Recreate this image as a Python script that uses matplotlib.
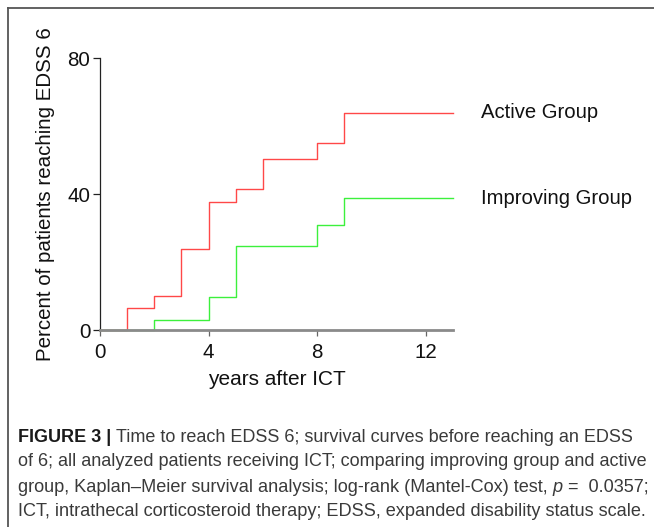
import matplotlib
matplotlib.use('Agg')
import matplotlib.pyplot as plt
from matplotlib.lines import Line2D

# Kaplan-Meier step data (years, percent reaching EDSS 6)
active_t = [0, 1, 2, 3, 4, 5, 6, 8, 9, 13]
active_y = [0, 6.5, 9.9, 23.8, 37.6, 41.4, 50.3, 55.0, 63.9, 63.9]
improving_t = [0, 2, 4, 5, 8, 9, 13]
improving_y = [0, 2.9, 9.8, 24.8, 31.0, 38.8, 38.8]

group_names = ['Active Group', 'Improving Group']
x_ticks = [0, 4, 8, 12]
y_ticks = [0, 40, 80]

caption_lines = [
    [('FIGURE 3 | ', 'bold', 'normal'),
     ('Time to reach EDSS 6; survival curves before reaching an EDSS', 'normal', 'normal')],
    [('of 6; all analyzed patients receiving ICT; comparing improving group and active', 'normal', 'normal')],
    [('group, Kaplan\u2013Meier survival analysis; log-rank (Mantel-Cox) test, ', 'normal', 'normal'),
     ('p', 'normal', 'italic'), (' =  0.0357;', 'normal', 'normal')],
    [('ICT, intrathecal corticosteroid therapy; EDSS, expanded disability status scale.', 'normal', 'normal')],
]

W, H = 654, 527
fig = plt.figure(figsize=(W / 100, H / 100), dpi=100)
font = 'Liberation Sans'
renderer = fig.canvas.get_renderer()

# figure frame (top and left edges)
fig.add_artist(Line2D([8 / W, 8 / W], [0, 1 - 8 / H], color='#555555', lw=1.3, transform=fig.transFigure))
fig.add_artist(Line2D([8 / W, 1], [1 - 8 / H, 1 - 8 / H], color='#555555', lw=1.3, transform=fig.transFigure))

ax = fig.add_axes([100 / W, 1 - 330 / H, 353 / W, 272 / H])
ax.step(active_t, active_y, where='post', color='#ff4848', lw=1.0, clip_on=False, zorder=3)
ax.step(improving_t, improving_y, where='post', color='#3cf03c', lw=1.0, clip_on=False, zorder=3)

ax.set_xlim(0, 13)
ax.set_ylim(0, 80)
ax.set_xticks(x_ticks)
ax.set_yticks(y_ticks)
for s in ['top', 'right']:
    ax.spines[s].set_visible(False)
ax.spines['left'].set_color('#222222')
ax.spines['left'].set_linewidth(0.9)
ax.spines['bottom'].set_color('#8a8a8a')
ax.spines['bottom'].set_linewidth(2.0)
ax.spines['bottom'].set_zorder(4)
ax.tick_params(axis='y', length=5, width=0.9, color='#222222', pad=2)
ax.tick_params(axis='x', length=4, width=0.9, color='#666666', pad=5)
for lab in ax.get_xticklabels() + ax.get_yticklabels():
    lab.set_fontfamily(font)
    lab.set_fontsize(14.8)
    lab.set_color('#111111')

ax.set_xlabel('years after ICT', fontfamily=font, fontsize=15, color='#111111', labelpad=6)
ax.set_ylabel('Percent of patients reaching EDSS 6', fontfamily=font, fontsize=14.8, color='#111111', labelpad=9)

ax.text(14.03, active_y[-1], group_names[0], fontfamily=font, fontsize=14.6, va='center', ha='left', color='#111111', clip_on=False)
ax.text(14.03, improving_y[-1], group_names[1], fontfamily=font, fontsize=14.6, va='center', ha='left', color='#111111', clip_on=False)

# caption, drawn piece by piece to mix weights and styles; each line fitted to its width
line_y = [438, 462, 487, 511]
line_right = [633, 647, 647, 646]
x0 = 18


def draw_line(pieces, yc, size):
    x = x0
    made = []
    for txt, weight, style in pieces:
        t = fig.text(x / W, 1 - yc / H, txt, fontfamily=font, fontsize=size, fontweight=weight,
                     fontstyle=style, color='#1a1a1a' if weight == 'bold' else '#3a3a3a', va='center', ha='left')
        x += t.get_window_extent(renderer).width
        made.append(t)
    return made, x - x0


for pieces, yc, xr in zip(caption_lines, line_y, line_right):
    made, w = draw_line(pieces, yc, 13)
    for t in made:
        t.remove()
    draw_line(pieces, yc, 13 * (xr - x0) / w)

fig.savefig('out.png', dpi=100)
